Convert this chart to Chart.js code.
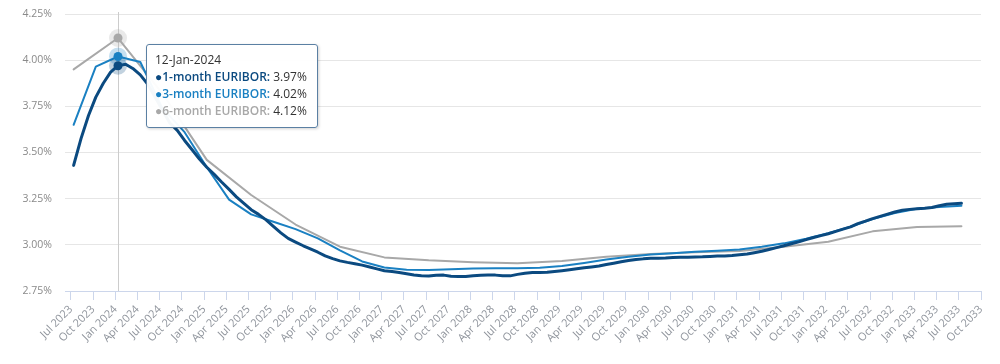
<!DOCTYPE html>
<html>
<head>
<meta charset="utf-8">
<script src="https://cdn.jsdelivr.net/npm/chart.js@4.4.1/dist/chart.umd.min.js"></script>
<style>
  html, body { margin: 0; padding: 0; background: #fff; }
  #wrap { position: relative; width: 1000px; height: 364px; }
  #tip {
    position: absolute; display: none; white-space: nowrap;
    background: rgba(255,255,255,0.96); border: 1px solid #5b80a3; border-radius: 3px;
    box-shadow: 1px 1px 3px rgba(0,0,0,0.18);
    padding: 6px 10px 8px 8px; font-family: "Open Sans", sans-serif; font-size: 12px; line-height: 17px; color: #333;
  }
  #tip .name { font-weight: 600; }
  #tip .val { color: #333; }
</style>
</head>
<body>
<div id="wrap">
  <canvas id="EuriborChart" width="1000" height="364"></canvas>
  <div id="tip"></div>
</div>
<script>
var monthNames = ['Jan', 'Feb', 'Mar', 'Apr', 'May', 'Jun', 'Jul', 'Aug', 'Sep', 'Oct', 'Nov', 'Dec'];

// forward fixings on the 12th, months counted from Jan 2023 (6 = Jul 2023)
var firstMonth = 6;
var fixingDay = 12;

// monthly points, Jul 2023 .. Jul 2033
var oneMonth = [
  3.43, 3.575, 3.70, 3.80, 3.875, 3.935, 3.97, 3.978, 3.955, 3.92,
  3.87, 3.80, 3.73, 3.66, 3.62, 3.565, 3.515, 3.465, 3.42, 3.38,
  3.34, 3.30, 3.26, 3.225, 3.19, 3.165, 3.135, 3.10, 3.065, 3.035,
  3.015, 2.995, 2.978, 2.96, 2.94, 2.925, 2.913, 2.905, 2.898, 2.89,
  2.88, 2.87, 2.86, 2.855, 2.85, 2.843, 2.837, 2.833, 2.831, 2.835,
  2.836, 2.83, 2.828, 2.828, 2.832, 2.835, 2.836, 2.836, 2.832, 2.832,
  2.84, 2.846, 2.85, 2.85, 2.851, 2.856, 2.86, 2.865, 2.87, 2.876,
  2.88, 2.885, 2.893, 2.90, 2.908, 2.915, 2.92, 2.924, 2.927, 2.928,
  2.929, 2.931, 2.933, 2.933, 2.934, 2.935, 2.937, 2.939, 2.94, 2.942,
  2.946, 2.95, 2.957, 2.965, 2.975, 2.985, 2.995, 3.006, 3.016, 3.028,
  3.04, 3.05, 3.06, 3.073, 3.085, 3.097, 3.115, 3.128, 3.142, 3.154,
  3.166, 3.178, 3.187, 3.192, 3.195, 3.198, 3.202, 3.212, 3.22, 3.223,
  3.225
];

// quarterly points
var threeMonth = [
  3.65, 3.965, 4.02, 3.99, 3.74, 3.61, 3.42, 3.245, 3.165, 3.125,
  3.085, 3.035, 2.97, 2.91, 2.877, 2.865, 2.864, 2.868, 2.872, 2.873,
  2.873, 2.876, 2.886, 2.902, 2.92, 2.936, 2.947, 2.955, 2.962, 2.968,
  2.975, 2.99, 3.008, 3.033, 3.063, 3.098, 3.14, 3.172, 3.195, 3.205,
  3.212
];

// half-yearly points
var sixMonth = [
  3.95, 4.12, 3.82, 3.46, 3.27, 3.11, 2.99, 2.932, 2.916, 2.906,
  2.90, 2.912, 2.935, 2.95, 2.96, 2.967, 2.99, 3.017, 3.073, 3.097,
  3.10
];

var seriesNames = ['1-month EURIBOR', '3-month EURIBOR', '6-month EURIBOR'];
var yTicks = [2.75, 3.00, 3.25, 3.50, 3.75, 4.00, 4.25];
var xTickFirst = 6, xTickLast = 129, xTickStep = 3; // Jul 2023 .. Oct 2033 quarterly
var xMin = 5.19, xMax = 129;
var activeMonth = 12; // 12-Jan-2024

function toX(m) {
  var yr = 2023 + Math.floor(m / 12), mo = m % 12;
  var days = new Date(yr, mo + 1, 0).getDate();
  return m + (fixingDay - 1) / days;
}

function toPoints(values, step) {
  return values.map(function (v, i) {
    var m = firstMonth + i * step;
    return { x: toX(m), y: v, m: m };
  });
}

function monthLabel(m) {
  return monthNames[m % 12] + ' ' + (2023 + Math.floor(m / 12));
}

function dayLabel(m) {
  var d = fixingDay < 10 ? '0' + fixingDay : fixingDay;
  return d + '-' + monthNames[m % 12] + '-' + (2023 + Math.floor(m / 12));
}

var colors = ['#0b4a80', '#1a80c2', '#a8a8a8'];

function drawTip(context) {
  var t = context.tooltip, el = document.getElementById('tip');
  if (t.opacity === 0 || !t.dataPoints || !t.dataPoints.length) { el.style.display = 'none'; return; }
  var html = '<div>' + dayLabel(t.dataPoints[0].raw.m) + '</div>';
  t.dataPoints.forEach(function (p) {
    var c = colors[p.datasetIndex];
    html += '<div><span style="color:' + c + '">\u25CF</span><span class="name" style="color:' + c + '">' +
      p.dataset.label + ':</span> <span class="val">' + p.raw.y.toFixed(2) + '%</span></div>';
  });
  el.innerHTML = html;
  el.style.display = 'block';
  el.style.left = (t.caretX + 28) + 'px';
  el.style.top = (t.caretY - 9) + 'px';
}

var crosshair = {
  id: 'crosshair',
  beforeDatasetsDraw: function (chart) {
    var act = chart.tooltip.getActiveElements();
    if (!act.length) return;
    var x = Math.round(act[0].element.x) + 0.5, ctx = chart.ctx, a = chart.chartArea;
    ctx.save();
    ctx.strokeStyle = '#cccccc';
    ctx.lineWidth = 1;
    ctx.beginPath();
    ctx.moveTo(x, a.top - 2);
    ctx.lineTo(x, a.bottom);
    ctx.stroke();
    ctx.restore();
  },
  afterDatasetsDraw: function (chart) {
    var act = chart.tooltip.getActiveElements(), ctx = chart.ctx;
    ctx.save();
    act.forEach(function (a) {
      var c = colors[a.datasetIndex];
      ctx.globalAlpha = 0.25;
      ctx.fillStyle = c;
      ctx.beginPath();
      ctx.arc(a.element.x, a.element.y, 9, 0, Math.PI * 2);
      ctx.fill();
    });
    act.forEach(function (a) {
      ctx.globalAlpha = 1;
      ctx.fillStyle = colors[a.datasetIndex];
      ctx.beginPath();
      ctx.arc(a.element.x, a.element.y, 4.5, 0, Math.PI * 2);
      ctx.fill();
    });
    ctx.restore();
  }
};

var ctx = document.getElementById('EuriborChart').getContext('2d');
var EuriborChart = new Chart(ctx, {
  type: 'line',
  data: {
    datasets: [
      { label: seriesNames[0], data: toPoints(oneMonth, 1), borderColor: colors[0], borderWidth: 3 },
      { label: seriesNames[1], data: toPoints(threeMonth, 3), borderColor: colors[1], borderWidth: 2 },
      { label: seriesNames[2], data: toPoints(sixMonth, 6), borderColor: colors[2], borderWidth: 2 }
    ]
  },
  options: {
    responsive: false,
    animation: false,
    events: [],
    elements: { point: { radius: 0, hoverRadius: 0 }, line: { tension: 0, borderJoinStyle: 'round', borderCapStyle: 'round' } },
    layout: { padding: { top: 14, right: 19, left: 0, bottom: 0 } },
    plugins: {
      legend: { display: false },
      tooltip: { enabled: false, external: drawTip }
    },
    scales: {
      x: {
        type: 'linear', min: xMin, max: xMax,
        afterBuildTicks: function (scale) {
          var t = [];
          for (var m = xTickFirst; m <= xTickLast; m += xTickStep) t.push({ value: m });
          scale.ticks = t;
        },
        afterFit: function (scale) {
          scale.height = 73;
          scale.paddingLeft = 0; scale.paddingRight = 0;
        },
        grid: { drawOnChartArea: false, color: '#ccd6eb', tickLength: 9 },
        border: { color: '#ccd6eb' },
        ticks: {
          autoSkip: false, minRotation: 45, maxRotation: 45, padding: 3,
          color: '#8f949c', font: { family: 'Open Sans', size: 11 },
          callback: function (v) { return monthLabel(Math.round(v)); }
        }
      },
      y: {
        min: yTicks[0], max: yTicks[yTicks.length - 1],
        afterBuildTicks: function (scale) {
          scale.ticks = yTicks.map(function (v) { return { value: v }; });
        },
        afterFit: function (scale) {
          scale.width = 65;
          scale.paddingTop = 0; scale.paddingBottom = 0;
        },
        grid: { color: '#e6e6e6', drawTicks: false },
        border: { display: false },
        ticks: {
          padding: 13, color: '#8a8a8a', font: { family: 'Open Sans', size: 10.5 },
          callback: function (v) { return v.toFixed(2) + '%'; }
        }
      }
    }
  },
  plugins: [crosshair]
});

var ai = activeMonth - firstMonth;
EuriborChart.tooltip.setActiveElements([
  { datasetIndex: 0, index: ai },
  { datasetIndex: 1, index: ai / 3 },
  { datasetIndex: 2, index: ai / 6 }
], { x: 0, y: 0 });
EuriborChart.update();
</script>
</body>
</html>
